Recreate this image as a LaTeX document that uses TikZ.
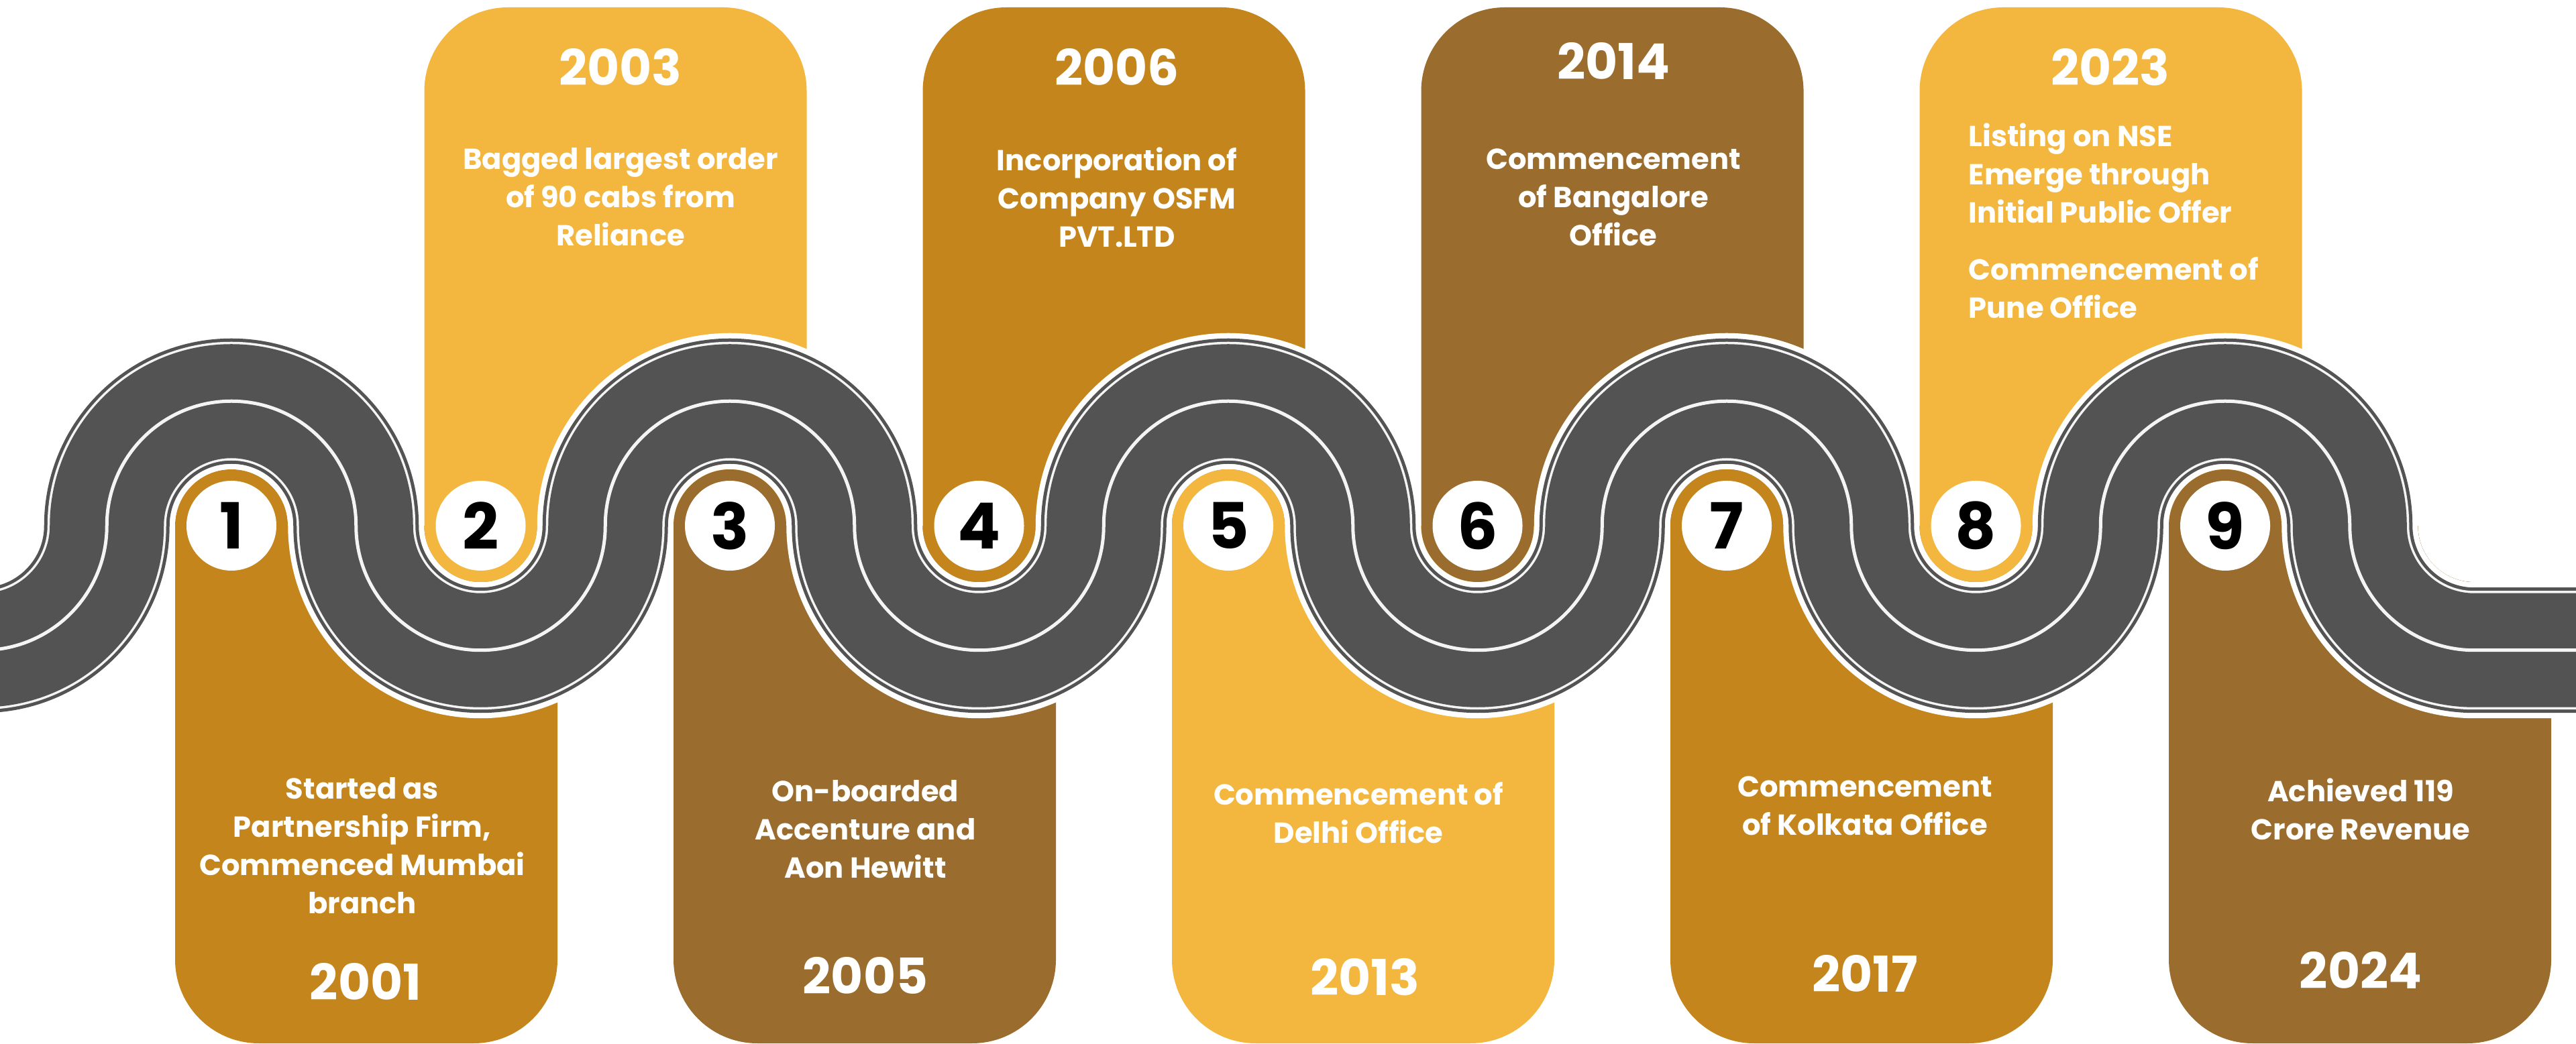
\documentclass[tikz,border=0pt]{standalone}
\usepackage{fontspec}
\setmainfont{Poppins}
\usetikzlibrary{positioning}
\definecolor{gold}{HTML}{C4861C}
\definecolor{sand}{HTML}{F3B73F}
\definecolor{bronze}{HTML}{9A6D2F}
\definecolor{asphalt}{HTML}{535353}
\definecolor{lane}{HTML}{F4F4F4}
\begin{document}
\begin{tikzpicture}[
	road/.style={draw=asphalt,line width=1.87cm,
		preaction={draw=white,line width=2.03cm},
		postaction={draw=lane,line width=1.77cm},
		postaction={draw=asphalt,line width=1.70cm},
		postaction={draw=lane,line width=0.05cm}},
	badge/.style={circle,fill=white,minimum size=1.34cm,inner sep=0pt,
		font=\fontsize{27}{27}\selectfont\bfseries},
	year/.style={text=white,inner sep=0pt,font=\fontsize{21}{21}\selectfont\bfseries},
	info/.style={text=white,align=center,inner sep=0pt,
		font=\fontsize{12.3}{16.2}\selectfont\bfseries}]
	
	\fill[white] (0,0) rectangle (38.4,15.56);
	\clip (0,0) rectangle (38.4,15.56);
	
	\foreach \i/\col in {1/gold,2/sand,3/bronze,4/gold,5/sand,6/bronze,7/gold,8/sand,9/bronze} {
		\pgfmathsetmacro\x{3.45+(\i-1)*3.715}
		\ifodd\i
		\fill[\col] (\x-0.84,7.72) arc(180:0:0.84) -- (\x+4.86,7.72) -- (\x+4.86,1.25)
			arc(0:-90:1.25) -- (\x+0.41,0) arc(270:180:1.25) -- cycle;
		\else
		\fill[\col] (\x-0.84,7.72) arc(180:360:0.84) -- (\x+4.86,7.72) -- (\x+4.86,14.2)
			arc(0:90:1.25) -- (\x+0.41,15.45) arc(90:180:1.25) -- cycle;
		\fi
	}
	\fill[white] (36.045,7.8) -- (36.045,7.72) arc(180:270:0.84) -- (38.5,6.88) -- (38.5,7.8) -- cycle;
	
	\draw[road] (-2.1225,7.72) arc(180:360:1.8575)
		\foreach \k in {1,...,4} {arc(180:0:1.8575) arc(180:360:1.8575)}
		arc(180:0:1.8575) arc(180:270:1.8575) -- ++(4,0);
	
	\foreach \i in {1,...,9} {
		\node[badge] (b\i) at ({3.45+(\i-1)*3.715},7.72) {\i};
	}
	
	\node[info] (t1) at (5.40,2.95) {Started as\\Partnership Firm,\\Commenced Mumbai\\branch};
	\node[year] (y1) at (5.45,0.92) {2001};
	\node[year] (y2) at (9.25,14.56) {2003};
	\node[info] (t2) at (9.25,12.62) {Bagged largest order\\of 90 cabs from\\Reliance};
	\node[info] (t3) at (12.90,3.19) {On-boarded\\Accenture and\\Aon Hewitt};
	\node[year] (y3) at (12.90,1.01) {2005};
	\node[year] (y4) at (16.65,14.56) {2006};
	\node[info] (t4) at (16.65,12.62) {Incorporation of\\Company OSFM\\PVT.LTD};
	\node[info] (t5) at (20.25,3.44) {Commencement of\\Delhi Office};
	\node[year] (y5) at (20.35,0.99) {2013};
	\node[year] (y6) at (24.05,14.65) {2014};
	\node[info] (t6) at (24.05,12.62) {Commencement\\of Bangalore\\Office};
	\node[info] (t7) at (27.80,3.54) {Commencement\\of Kolkata Office};
	\node[year] (y7) at (27.80,1.04) {2017};
	\node[year] (y8) at (31.46,14.56) {2023};
	\node[info,align=left,anchor=west] (t8) at (29.34,12.27) {Listing on NSE\\Emerge through\\Initial Public Offer\\[8pt]Commencement of\\Pune Office};
	\node[info] (t9) at (35.19,3.49) {Achieved 119\\Crore Revenue};
	\node[year] (y9) at (35.19,1.09) {2024};
\end{tikzpicture}
\end{document}
